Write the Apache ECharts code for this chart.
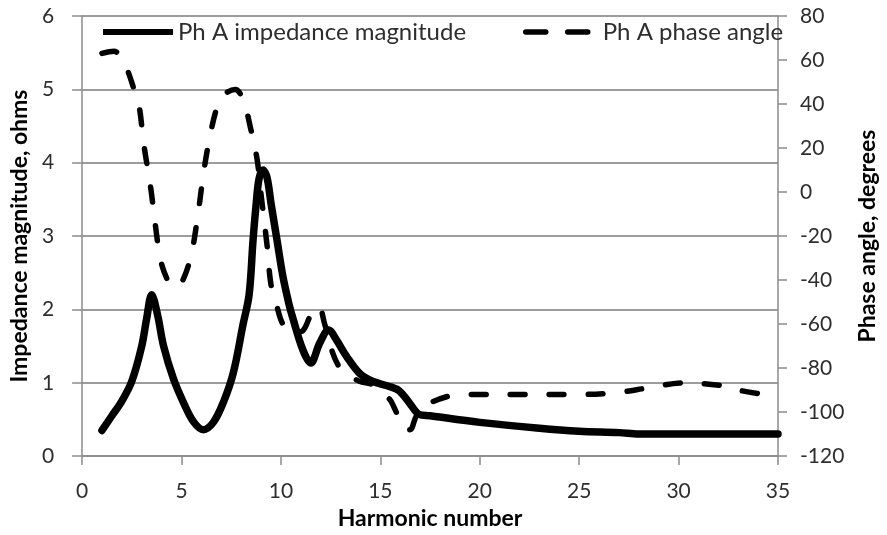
<!DOCTYPE html>
<html>
<head>
<meta charset="utf-8">
<script src="https://cdn.jsdelivr.net/npm/echarts@6/dist/echarts.min.js"></script>
<style>
  html, body { margin: 0; padding: 0; background: #fff; }
  #chart { width: 887px; height: 535px; }
</style>
</head>
<body>
<div id="chart"></div>
<script>
// Harmonic impedance scan, phase A
const harmonic = [1.0, 1.5, 2.0, 2.5, 3.0, 3.25, 3.5, 3.8, 4.1, 4.6, 5.1, 5.6, 6.1, 6.6, 7.1, 7.6, 8.1, 8.4, 8.6, 8.75, 8.9, 9.1, 9.3, 9.5, 9.8, 10.1, 10.4, 10.6, 11.1, 11.5, 11.95, 12.4, 12.8, 13.3, 13.95, 14.6, 15.45, 15.95, 16.45, 16.95, 17.5, 20, 23, 25, 27, 28, 35];
const impedanceMag = [0.35, 0.55, 0.75, 1.02, 1.50, 1.88, 2.20, 1.92, 1.50, 1.05, 0.73, 0.47, 0.36, 0.46, 0.73, 1.13, 1.80, 2.20, 2.95, 3.42, 3.78, 3.90, 3.80, 3.45, 2.95, 2.45, 2.08, 1.88, 1.45, 1.27, 1.54, 1.72, 1.58, 1.36, 1.13, 1.02, 0.95, 0.89, 0.73, 0.57, 0.55, 0.46, 0.38, 0.34, 0.32, 0.30, 0.30];

const harmonicPh = [1.0, 1.6, 2.0, 2.3, 2.6, 2.87, 3.1, 3.45, 3.7, 3.95, 4.3, 4.6, 4.95, 5.45, 5.8, 6.1, 6.4, 6.8, 7.1, 7.7, 8.1, 8.45, 8.8, 9.0, 9.3, 9.5, 9.8, 10.1, 10.6, 11.1, 11.5, 11.9, 12.2, 12.6, 12.9, 13.2, 13.95, 14.6, 15.45, 15.7, 16.0, 16.3, 16.5, 16.75, 16.95, 17.45, 18.45, 19, 25, 27, 28.45, 30.3, 32.1, 33, 34.3];
const phaseAngle = [63, 64, 61, 55, 47, 39, 22, 2, -16, -31, -40, -43, -42, -30, -12, 8, 24, 39, 44, 46.6, 42, 30, 15, -1, -24, -42, -52, -60, -64, -63, -56, -52, -60, -73, -79, -82, -86, -87.5, -94, -98, -104, -108, -108, -103, -99, -96, -92.7, -92, -92, -91, -89, -86.7, -87.9, -90, -92];

const magTicks = { min: 0, max: 6, interval: 1 };
const phaseTicks = { min: -120, max: 80, interval: 20 };
const xTicks = { min: 0, max: 35, interval: 5 };

const FONT = 'Lato';
const axisGray = '#8c8c8c';
const labelColor = '#2e2e2e';

const pairs = (xs, ys) => xs.map((x, i) => [x, ys[i]]);

const chart = echarts.init(document.getElementById('chart'), null, { renderer: 'canvas' });

chart.setOption({
  animation: false,
  backgroundColor: '#ffffff',
  textStyle: { fontFamily: FONT },
  grid: { left: 81, right: 106, top: 16, bottom: 74, containLabel: false },
  legend: [
    {
      left: 100, top: 20, padding: 0,
      itemWidth: 70, itemHeight: 22, itemGap: 0,
      data: [{ name: 'Ph A impedance magnitude' }],
      itemStyle: { color: 'transparent', borderWidth: 0 },
      lineStyle: { width: 6, color: '#000', type: 'solid', cap: 'butt' },
      textStyle: { fontFamily: FONT, fontSize: 24, color: labelColor, padding: [0, 0, 0, 0] }
    },
    {
      left: 523, top: 20, padding: 0,
      itemWidth: 67, itemHeight: 22, itemGap: 0,
      data: [{ name: 'Ph A phase angle' }],
      itemStyle: { color: 'transparent', borderWidth: 0 },
      lineStyle: { width: 5.5, color: '#000', type: [20, 22], cap: 'round' },
      textStyle: { fontFamily: FONT, fontSize: 24, color: labelColor, padding: [0, 0, 0, 5] }
    }
  ],
  xAxis: {
    type: 'value',
    min: xTicks.min, max: xTicks.max, interval: xTicks.interval,
    name: 'Harmonic number',
    nameLocation: 'middle',
    nameGap: 48,
    nameTextStyle: { fontFamily: FONT, fontSize: 23, fontWeight: 'bold', color: '#000' },
    axisLine: { show: true, onZero: false, lineStyle: { color: axisGray, width: 1.5 } },
    axisTick: { show: true, inside: false, length: 9, lineStyle: { color: axisGray, width: 1.5 } },
    axisLabel: { margin: 25, fontFamily: FONT, fontSize: 21, color: labelColor },
    splitLine: { show: false }
  },
  yAxis: [
    {
      type: 'value',
      position: 'left',
      min: magTicks.min, max: magTicks.max, interval: magTicks.interval,
      name: 'Impedance magnitude, ohms',
      nameLocation: 'middle',
      nameRotate: 90,
      nameGap: 50,
      nameTextStyle: { fontFamily: FONT, fontSize: 23, fontWeight: 'bold', color: '#000' },
      axisLine: { show: true, onZero: false, lineStyle: { color: axisGray, width: 1.5 } },
      axisTick: { show: true, inside: false, length: 10, lineStyle: { color: axisGray, width: 1.5 } },
      axisLabel: { margin: 28, fontFamily: FONT, fontSize: 21, color: labelColor },
      splitLine: { show: true, lineStyle: { color: '#9c9c9c', width: 2 } }
    },
    {
      type: 'value',
      position: 'right',
      min: phaseTicks.min, max: phaseTicks.max, interval: phaseTicks.interval,
      name: 'Phase angle, degrees',
      nameLocation: 'middle',
      nameRotate: 90,
      nameGap: 78,
      nameTextStyle: { fontFamily: FONT, fontSize: 23, fontWeight: 'bold', color: '#000' },
      axisLine: { show: true, onZero: false, lineStyle: { color: axisGray, width: 1.5 } },
      axisTick: { show: true, inside: false, length: 9, lineStyle: { color: axisGray, width: 1.5 } },
      axisLabel: { margin: 22, fontFamily: FONT, fontSize: 21, color: labelColor },
      splitLine: { show: false }
    }
  ],
  series: [
    {
      name: 'Ph A impedance magnitude',
      type: 'line',
      yAxisIndex: 0,
      data: pairs(harmonic, impedanceMag),
      smooth: 0.35,
      showSymbol: false,
      symbol: 'none',
      lineStyle: { color: '#000', width: 7.5, cap: 'round', join: 'round' },
      itemStyle: { color: '#000' },
      z: 3
    },
    {
      name: 'Ph A phase angle',
      type: 'line',
      yAxisIndex: 1,
      data: pairs(harmonicPh, phaseAngle),
      smooth: 0.35,
      showSymbol: false,
      symbol: 'none',
      lineStyle: { color: '#000', width: 5.5, type: [15, 24], cap: 'round', join: 'round' },
      itemStyle: { color: '#000' },
      z: 4
    }
  ]
});
</script>
</body>
</html>
